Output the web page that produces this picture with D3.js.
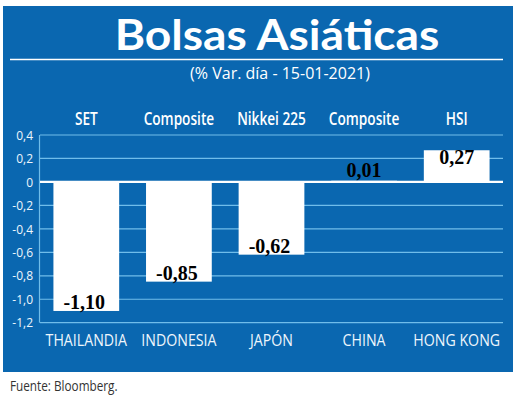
<!DOCTYPE html>
<html><head><meta charset="utf-8">
<script src="https://cdn.jsdelivr.net/npm/d3@7"></script>
<style>html,body{margin:0;padding:0;background:#fff;}svg{display:block;}</style>
</head><body>
<svg id="c" width="520" height="397"></svg>
<script>
const countries = ["THAILANDIA","INDONESIA","JAPÓN","CHINA","HONG KONG"];
const indices = ["SET","Composite","Nikkei 225","Composite","HSI"];
const values = [-1.10,-0.85,-0.62,0.01,0.27];
const yTicks = [0.4,0.2,0,-0.2,-0.4,-0.6,-0.8,-1.0,-1.2];
const title = "Bolsas Asiáticas";
const subtitle = "(% Var. día - 15-01-2021)";
const source = "Fuente: Bloomberg.";

const svg = d3.select("#c");
const blue = "#0a67b0", grid = "#70bdea", light = "#eef6fc";
const loc = d3.formatLocale({decimal:",", thousands:".", grouping:[3], currency:["",""], minus:"-"});
const fmt = loc.format(".2f");
const fmt1 = loc.format(".1f");
const fmtTick = v => v === 0 ? "0" : fmt1(v);

svg.append("rect").attr("x",3).attr("y",6).attr("width",510).attr("height",366).attr("fill",blue);

svg.append("text").attr("transform","translate(277,50) scale(1.1,1)").attr("text-anchor","middle")
  .attr("font-family","Lato, 'Open Sans', sans-serif").attr("font-weight","bold")
  .attr("font-size",42).attr("fill","#fff").text(title);
svg.append("line").attr("x1",10).attr("x2",503).attr("y1",59.5).attr("y2",59.5)
  .attr("stroke","#fff").attr("stroke-width",1.5);
svg.append("text").attr("x",280).attr("y",79).attr("text-anchor","middle")
  .attr("font-family","'Open Sans', sans-serif").attr("font-size",16).attr("fill","#fff").text(subtitle);

const x = d3.scaleBand().domain(d3.range(values.length)).range([40,503]).paddingInner(0.29).paddingOuter(0.145);
const y = d3.scaleLinear().domain([-1.2,0.4]).range([322.7,135]);

// gridlines
svg.append("g").selectAll("line").data(yTicks.filter(t=>t!==0)).join("line")
  .attr("x1",40).attr("x2",503).attr("y1",d=>y(d)).attr("y2",d=>y(d))
  .attr("stroke",grid).attr("stroke-width",1.2);
svg.append("line").attr("x1",39.5).attr("x2",39.5).attr("y1",y(0.4)).attr("y2",y(-1.2))
  .attr("stroke",grid).attr("stroke-width",1.2);

// y axis labels
const yAxis = d3.axisLeft(y).tickValues(yTicks).tickFormat(fmtTick).tickSize(0).tickPadding(0);
const ga = svg.append("g").attr("transform","translate(33,0)").call(yAxis);
ga.select(".domain").remove();
ga.selectAll("text").attr("font-family","'Open Sans', sans-serif").attr("font-size",12)
  .attr("fill",light).attr("dy","0.35em");

// bars
svg.append("g").selectAll("rect").data(values).join("rect")
  .attr("x",(d,i)=>x(i)).attr("width",x.bandwidth())
  .attr("y",d=>y(Math.max(0,d))).attr("height",d=>Math.abs(y(d)-y(0)))
  .attr("fill","#fff");

// zero line
svg.append("line").attr("x1",40).attr("x2",503).attr("y1",y(0)).attr("y2",y(0))
  .attr("stroke","#fff").attr("stroke-width",2.2);

// value labels
svg.append("g").selectAll("text").data(values).join("text")
  .attr("x",(d,i)=>x(i)+x.bandwidth()/2 - (d<0?2:0)).attr("text-anchor","middle")
  .attr("y",d=> d<0 ? y(d)-2 : (y(0)-y(d) > 20 ? y(d)+14 : y(0)-5))
  .attr("font-family","'Liberation Serif', serif").attr("font-weight","bold")
  .attr("font-size",20).attr("fill","#000").text(fmt);

// index labels (top)
svg.append("g").selectAll("text").data(indices).join("text")
  .attr("transform",(d,i)=>`translate(${x(i)+x.bandwidth()/2},125) scale(0.78,1)`)
  .attr("text-anchor","middle")
  .attr("font-family","'Open Sans', sans-serif").attr("font-weight","600")
  .attr("font-size",17.5).attr("fill","#fff").text(d=>d);

// country labels (bottom)
svg.append("g").selectAll("text").data(countries).join("text")
  .attr("transform",(d,i)=>`translate(${x(i)+x.bandwidth()/2},346) scale(0.86,1)`)
  .attr("text-anchor","middle")
  .attr("font-family","'Open Sans', sans-serif")
  .attr("font-size",16.5).attr("fill",light).text(d=>d);

svg.append("text").attr("transform","translate(10,391) scale(0.84,1)")
  .attr("font-family","'Open Sans', sans-serif").attr("font-size",14).attr("fill","#333").text(source);
</script>
</body></html>
